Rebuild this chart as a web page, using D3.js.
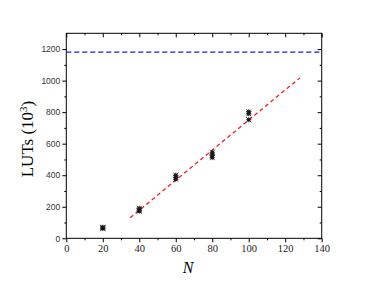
<!DOCTYPE html>
<html><head><meta charset="utf-8">
<script src="https://cdn.jsdelivr.net/npm/d3@7"></script>
<style>body{margin:0;background:#fff}</style>
</head><body>
<svg id="c" width="374" height="286"></svg>
<script>
const pointN = [20,20,20,40,40,40,60,60,60,80,80,80,100,100,100];
const pointLUT = [62,66,70,172,180,190,375,385,400,512,525,545,752,790,802];
const fitN = [35,128];
const fitLUT = [130,1017];
const limitLUT = 1180;
const xTicks = [0,20,40,60,80,100,120,140];
const yTicks = [0,200,400,600,800,1000,1200];

const svg = d3.select("#c");
const L=66.3,R=321.7,T=33.3,B=238.3;
const x = d3.scaleLinear().domain([0,140]).range([L,R]);
const y = d3.scaleLinear().domain([0,1300]).range([B,T]);

svg.append("rect").attr("x",L).attr("y",T).attr("width",R-L).attr("height",B-T)
  .attr("fill","none").attr("stroke","#000").attr("stroke-width",1);

const xMinor = d3.range(10,140,20);
const yMinor = d3.range(100,1300,200);

const gb = svg.append("g").attr("transform",`translate(0,${B})`)
  .call(d3.axisBottom(x).tickValues(xTicks).tickSize(4).tickPadding(2).tickFormat(d3.format("d")));
gb.select(".domain").remove();
gb.selectAll("text").attr("font-family","Liberation Serif").attr("font-size",10.5).attr("fill","#222");
svg.append("g").attr("transform",`translate(0,${B})`)
  .call(d3.axisBottom(x).tickValues(xMinor).tickSize(2).tickFormat(""))
  .select(".domain").remove();
svg.append("g").attr("transform",`translate(0,${T})`)
  .call(d3.axisBottom(x).tickValues(xTicks).tickSize(4).tickFormat(""))
  .select(".domain").remove();
svg.append("g").attr("transform",`translate(0,${T})`)
  .call(d3.axisBottom(x).tickValues(xMinor).tickSize(2).tickFormat(""))
  .select(".domain").remove();
const gl = svg.append("g").attr("transform",`translate(${L},0)`)
  .call(d3.axisLeft(y).tickValues(yTicks).tickSize(4).tickPadding(2).tickFormat(d3.format("d")));
gl.select(".domain").remove();
gl.selectAll("text").attr("font-family","Liberation Sans").attr("font-size",8.5).attr("fill","#333");
svg.append("g").attr("transform",`translate(${L},0)`)
  .call(d3.axisLeft(y).tickValues(yMinor).tickSize(2).tickFormat(""))
  .select(".domain").remove();
svg.append("g").attr("transform",`translate(${R},0)`)
  .call(d3.axisLeft(y).tickValues(yTicks).tickSize(4).tickFormat(""))
  .select(".domain").remove();
svg.append("g").attr("transform",`translate(${R},0)`)
  .call(d3.axisLeft(y).tickValues(yMinor).tickSize(2).tickFormat(""))
  .select(".domain").remove();

svg.append("line").attr("x1",L).attr("x2",R).attr("y1",y(limitLUT)).attr("y2",y(limitLUT))
  .attr("stroke","#1a1adc").attr("stroke-width",1.2).attr("stroke-dasharray","5,3");

svg.append("line").attr("x1",x(fitN[0])).attr("x2",x(fitN[1])).attr("y1",y(fitLUT[0])).attr("y2",y(fitLUT[1]))
  .attr("stroke","#f02020").attr("stroke-width",1.3).attr("stroke-dasharray","4,3");

const pts = pointN.map((n,i)=>({n,v:pointLUT[i]}));
const mg = svg.append("g");
pts.forEach(p=>{
  const cx=x(p.n), cy=y(p.v), s=2.6;
  const g = mg.append("g").attr("transform",`translate(${cx},${cy})`);
  g.append("rect").attr("x",-1.6).attr("y",-1.6).attr("width",3.2).attr("height",3.2).attr("fill","#000");
  g.append("path").attr("d",`M${-s},${-s}L${s},${s}M${-s},${s}L${s},${-s}M0,${-s}L0,${s}M${-s},0L${s},0`)
    .attr("stroke","#222").attr("stroke-width",0.8).attr("fill","none");
});

svg.append("text").attr("transform","translate(33,139) rotate(-90)").attr("text-anchor","middle")
  .attr("font-family","Liberation Serif").attr("font-size",17)
  .html('LUTs (10<tspan dy="-6" font-size="11">3</tspan><tspan dy="6">)</tspan>');
svg.append("text").attr("x",188).attr("y",273).attr("text-anchor","middle")
  .attr("font-family","Liberation Serif").attr("font-style","italic").attr("font-size",16).text("N");
</script>
</body></html>
